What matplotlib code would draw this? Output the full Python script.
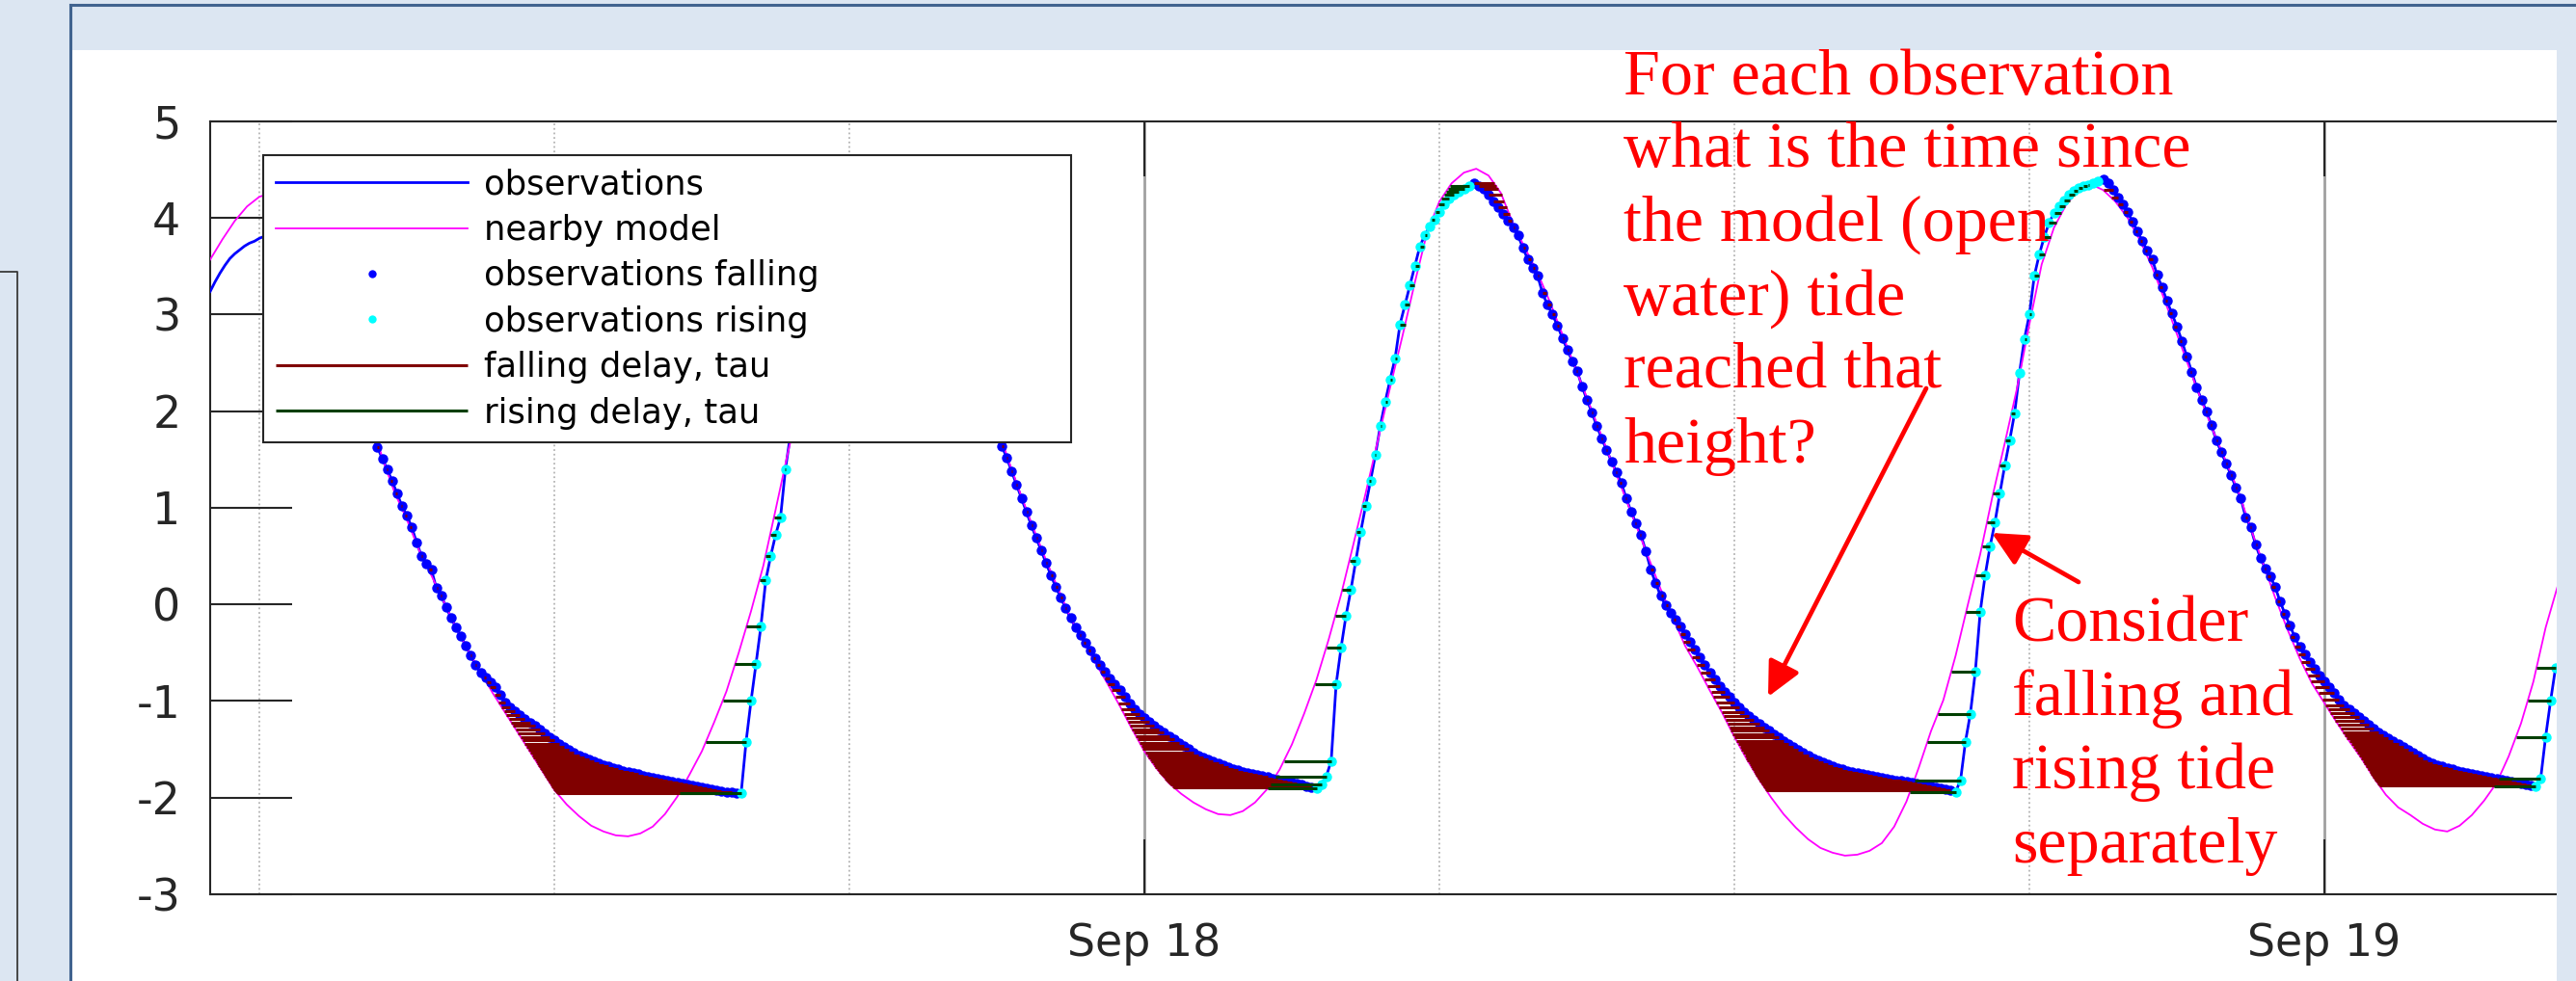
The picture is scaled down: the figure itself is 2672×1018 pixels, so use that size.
import numpy as np
import pandas as pd
import matplotlib
matplotlib.use('Agg')
import matplotlib.pyplot as plt
import matplotlib.dates as mdates
from matplotlib.patches import Rectangle, FancyArrowPatch
from matplotlib.lines import Line2D

# ---------------------------------------------------------------- data
OBS_START = '2015-09-17 05:00'
OBS_STEP = '6min'
obs_height = [
    3.24, 3.34, 3.43, 3.51, 3.58, 3.63, 3.67, 3.71, 3.74, 3.76,   # 05h
    3.79, 3.81, 3.83, 3.84, 3.84, 3.82, 3.78, 3.72, 3.64, 3.54,   # 06h
    3.43, 3.31, 3.18, 3.05, 2.92, 2.79, 2.66, 2.53, 2.40, 2.27,   # 07h
    2.14, 2.01, 1.88, 1.75, 1.63, 1.51, 1.40, 1.28, 1.15, 1.02,   # 08h
    0.92, 0.80, 0.64, 0.50, 0.42, 0.36, 0.17, 0.09, -0.03, -0.14,  # 09h
    -0.24, -0.33, -0.43, -0.53, -0.63, -0.71, -0.76, -0.81, -0.86, -0.94,
    -1.01, -1.06, -1.10, -1.14, -1.18, -1.22, -1.25, -1.29, -1.33, -1.37,
    -1.40, -1.44, -1.47, -1.50, -1.53, -1.56, -1.58, -1.60, -1.62, -1.64,
    -1.66, -1.67, -1.69, -1.70, -1.72, -1.73, -1.74, -1.75, -1.77, -1.78,
    -1.79, -1.80, -1.81, -1.82, -1.83, -1.84, -1.85, -1.86, -1.87, -1.88,
    -1.89, -1.90, -1.91, -1.92, -1.93, -1.94, -1.94, -1.95, -1.95, -1.42,  # 15h
    -1.00, -0.62, -0.23, 0.25, 0.50, 0.72, 0.90, 1.40, 1.75, 2.05,
    2.30, 2.55, 2.85, 3.10, 3.32, 3.52, 3.68, 3.82, 3.93, 4.02,
    4.09, 4.15, 4.20, 4.24, 4.27, 4.29, 4.30, 4.31, 4.27, 4.22,
    4.15, 4.07, 3.98, 3.88, 3.77, 3.65, 3.53, 3.40, 3.27, 3.14,
    3.01, 2.88, 2.75, 2.62, 2.49, 2.36, 2.23, 2.10, 1.97, 1.87,   # 20h
    1.76, 1.64, 1.52, 1.38, 1.24, 1.10, 0.96, 0.82, 0.69, 0.56,
    0.43, 0.30, 0.18, 0.07, -0.04, -0.14, -0.24, -0.32, -0.40, -0.48,
    -0.56, -0.63, -0.70, -0.77, -0.83, -0.89, -0.96, -1.02, -1.08, -1.13,
    -1.17, -1.21, -1.25, -1.29, -1.32, -1.36, -1.39, -1.43, -1.46, -1.49,
    -1.53, -1.56, -1.58, -1.60, -1.62, -1.64, -1.66, -1.68, -1.70, -1.71,  # 25h
    -1.73, -1.74, -1.75, -1.76, -1.77, -1.78, -1.80, -1.81, -1.82, -1.83,
    -1.84, -1.85, -1.86, -1.88, -1.89, -1.90, -1.86, -1.78, -1.62, -0.83,
    -0.45, -0.12, 0.15, 0.45, 0.75, 1.02, 1.28, 1.55, 1.85, 2.10,
    2.33, 2.55, 2.90, 3.10, 3.30, 3.50, 3.70, 3.82, 3.91, 3.98,
    4.06, 4.14, 4.20, 4.24, 4.27, 4.30, 4.33, 4.36, 4.33, 4.30,   # 30h
    4.24, 4.17, 4.11, 4.04, 3.97, 3.90, 3.82, 3.69, 3.57, 3.48,
    3.40, 3.22, 3.10, 3.00, 2.89, 2.76, 2.64, 2.52, 2.42, 2.26,
    2.12, 1.99, 1.85, 1.72, 1.60, 1.48, 1.37, 1.26, 1.10, 0.96,
    0.84, 0.72, 0.55, 0.36, 0.22, 0.09, -0.01, -0.09, -0.16, -0.23,
    -0.31, -0.39, -0.47, -0.55, -0.63, -0.71, -0.78, -0.85, -0.91, -0.96,  # 35h
    -1.01, -1.06, -1.11, -1.15, -1.19, -1.23, -1.27, -1.30, -1.34, -1.37,
    -1.41, -1.44, -1.47, -1.50, -1.53, -1.56, -1.59, -1.61, -1.63, -1.65,
    -1.67, -1.69, -1.70, -1.72, -1.73, -1.74, -1.75, -1.76, -1.77, -1.78,
    -1.79, -1.80, -1.81, -1.82, -1.82, -1.83, -1.84, -1.85, -1.86, -1.87,
    -1.88, -1.89, -1.90, -1.91, -1.92, -1.94, -1.82, -1.42, -1.13, -0.70,  # 40h
    -0.08, 0.30, 0.60, 0.85, 1.15, 1.44, 1.70, 1.98, 2.40, 2.75,
    3.00, 3.40, 3.62, 3.80, 3.95, 4.05, 4.12, 4.18, 4.24, 4.28,
    4.31, 4.33, 4.34, 4.36, 4.38, 4.40, 4.36, 4.29, 4.21, 4.14,
    4.06, 3.96, 3.86, 3.76, 3.66, 3.57, 3.41, 3.28, 3.14, 3.01,
    2.88, 2.73, 2.57, 2.41, 2.25, 2.12, 2.00, 1.86, 1.70, 1.58,   # 45h
    1.46, 1.34, 1.21, 1.10, 0.90, 0.80, 0.62, 0.48, 0.37, 0.29,
    0.18, 0.03, -0.10, -0.22, -0.34, -0.44, -0.52, -0.60, -0.67, -0.74,
    -0.80, -0.86, -0.92, -0.99, -1.04, -1.08, -1.12, -1.16, -1.20, -1.24,
    -1.28, -1.32, -1.35, -1.38, -1.41, -1.44, -1.47, -1.50, -1.53, -1.56,
    -1.59, -1.62, -1.64, -1.66, -1.67, -1.69, -1.70, -1.72, -1.73, -1.74,  # 50h
    -1.75, -1.76, -1.77, -1.78, -1.79, -1.80, -1.81, -1.82, -1.83, -1.84,
    -1.85, -1.86, -1.87, -1.88, -1.80, -1.37, -1.00, -0.66,
]

MODEL_START = '2015-09-17 05:00'
MODEL_STEP = '15min'
model_height = [
    3.57, 3.78, 3.97, 4.12,        # 05h
    4.22, 4.26, 4.22, 4.08,
    3.85, 3.55, 3.20, 2.80,
    2.38, 1.96, 1.52, 1.16,
    0.88, 0.56, 0.30, 0.03,
    -0.24, -0.48, -0.70, -0.92,    # 10h
    -1.12, -1.32, -1.52, -1.72,
    -1.92, -2.07, -2.19, -2.29,
    -2.35, -2.39, -2.40, -2.37,
    -2.30, -2.17, -1.99, -1.76,
    -1.52, -1.22, -0.90, -0.50,    # 15h
    -0.07, 0.40, 0.98, 1.57,
    2.12, 2.65, 3.12, 3.52,
    3.85, 4.10, 4.26, 4.32,
    4.27, 4.13, 3.92, 3.65,
    3.33, 2.98, 2.62, 2.25,        # 20h
    1.86, 1.47, 1.12, 0.78,
    0.46, 0.16, -0.14, -0.38,
    -0.60, -0.82, -1.05, -1.29,
    -1.52, -1.70, -1.85, -1.96,
    -2.05, -2.12, -2.17, -2.18,    # 25h
    -2.14, -2.05, -1.91, -1.71,
    -1.45, -1.13, -0.78, -0.36,
    0.10, 0.62, 1.15, 1.70,
    2.25, 2.78, 3.33, 3.85,
    4.17, 4.36, 4.47, 4.51,        # 30h
    4.44, 4.26, 3.94, 3.68,
    3.43, 3.13, 2.80, 2.47,
    2.14, 1.81, 1.48, 1.15,
    0.82, 0.49, 0.16, -0.14,
    -0.43, -0.65, -0.89, -1.12,    # 35h
    -1.37, -1.60, -1.81, -2.00,
    -2.17, -2.31, -2.43, -2.52,
    -2.57, -2.60, -2.59, -2.55,
    -2.47, -2.30, -2.04, -1.69,
    -1.31, -0.99, -0.53, 0.00,     # 40h
    0.52, 1.12, 1.67, 2.24,
    2.90, 3.52, 3.90, 4.14,
    4.29, 4.35, 4.29, 4.17,
    4.00, 3.77, 3.49, 3.15,
    2.80, 2.45, 2.11, 1.78,        # 45h
    1.48, 1.17, 0.79, 0.43,
    0.07, -0.26, -0.56, -0.82,
    -1.02, -1.22, -1.41, -1.59,
    -1.79, -1.97, -2.10, -2.18,
    -2.27, -2.33, -2.35, -2.29,    # 50h
    -2.18, -2.03, -1.85, -1.57,
    -1.23, -0.80, -0.24, 0.20,
    0.65,
]

ANALYSIS_START = '2015-09-17 06:30'
MAX_DELAY_HOURS = 6
XLIM = ('2015-09-17 05:00', '2015-09-19 05:40')
YLIM = (-3, 5)
YTICKS = [-3, -2, -1, 0, 1, 2, 3, 4, 5]
YTICK_LABELS = ['-3', '-2', '-1', '0', '1', '2', '3', '4', '5']
LEGEND_LABELS = ['observations', 'nearby model', 'observations falling',
                 'observations rising', 'falling delay, tau', 'rising delay, tau']
NOTE_1 = ['For each observation', 'what is the time since', 'the model (open',
          'water) tide', 'reached that', 'height?']
NOTE_2 = ['Consider', 'falling and', 'rising tide', 'separately']

# ---------------------------------------------------------------- derived
t_obs = mdates.date2num(pd.date_range(OBS_START, periods=len(obs_height), freq=OBS_STEP))
t_mod = mdates.date2num(pd.date_range(MODEL_START, periods=len(model_height), freq=MODEL_STEP))
h = np.array(obs_height, dtype=float)
m = np.array(model_height, dtype=float)

d = np.diff(h)
d = np.append(d, d[-1])
rising = d > 0
active = t_obs >= mdates.date2num(pd.Timestamp(ANALYSIS_START))


def crossings(level, direction):
    a = m[:-1] - level
    b = m[1:] - level
    step = m[1:] - m[:-1]
    idx = np.where((a * b <= 0) & (np.sign(step) == direction))[0]
    frac = (level - m[idx]) / step[idx]
    return t_mod[idx] + frac * (t_mod[idx + 1] - t_mod[idx])


fall_seg, rise_seg = [], []
for i in np.where(active)[0]:
    direction = 1 if rising[i] else -1
    tc = crossings(h[i], direction)
    if len(tc) == 0:
        continue
    j = np.argmin(np.abs(tc - t_obs[i]))
    if abs(tc[j] - t_obs[i]) <= MAX_DELAY_HOURS / 24.0:
        (rise_seg if rising[i] else fall_seg).append((h[i], tc[j], t_obs[i]))
fall_seg = np.array(fall_seg)
rise_seg = np.array(rise_seg)

# ---------------------------------------------------------------- figure
W, H = 2672, 1018
SLIDE_BLUE = '#dce6f2'
BORDER_BLUE = '#41638f'
INK = '#262626'

plt.rcParams['font.family'] = ['DejaVu Sans']
fig = plt.figure(figsize=(W / 100, H / 100), dpi=100, facecolor=SLIDE_BLUE)


def fx(x):
    return x / W


def fy(y):
    return 1 - y / H


# white slide area
fig.add_artist(Rectangle((fx(75), 0), fx(2652) - fx(75), fy(52), transform=fig.transFigure,
                         facecolor='white', edgecolor='none', zorder=-2))

ax = fig.add_axes([fx(218), fy(928), (2700 - 218) / W, (928 - 126) / H])
ax.set_facecolor('white')

l_obs, = ax.plot(t_obs, h, color='#0000ff', lw=2.0, zorder=3)
l_mod, = ax.plot(t_mod, m, color='#ff00ff', lw=1.3, zorder=3.5)
l_fall, = ax.plot(t_obs[active & ~rising], h[active & ~rising], ls='none', marker='o',
                  ms=7.5, mew=0, color='#0000ff', zorder=4)
l_rise, = ax.plot(t_obs[active & rising], h[active & rising], ls='none', marker='o',
                  ms=7.5, mew=0, color='#00ffff', zorder=4)
c_fall = ax.hlines(fall_seg[:, 0], fall_seg[:, 1], fall_seg[:, 2], colors='#800000',
                   lw=2.2, zorder=5)
c_rise = ax.hlines(rise_seg[:, 0], rise_seg[:, 1], rise_seg[:, 2], colors='#003f00',
                   lw=2.2, zorder=5)

ax.set_xlim(mdates.date2num(pd.Timestamp(XLIM[0])), mdates.date2num(pd.Timestamp(XLIM[1])))
ax.set_ylim(*YLIM)
ax.set_yticks(YTICKS)
ax.set_yticklabels(YTICK_LABELS)
ax.xaxis.set_major_locator(mdates.DayLocator())
ax.xaxis.set_major_formatter(mdates.DateFormatter('%b %d'))
ax.xaxis.set_minor_locator(mdates.HourLocator(byhour=[6, 12, 18]))

ax.tick_params(axis='x', which='major', direction='in', length=41, width=1.5, top=True,
               colors=INK, labelsize=33, pad=21)
ax.tick_params(axis='x', which='minor', length=0)
ax.tick_params(axis='y', which='major', direction='in', length=61, width=1.5, right=False,
               colors=INK, labelsize=33, pad=22)
ax.set_axisbelow(True)
ax.grid(which='major', axis='x', color='#a0a0a0', lw=2.0, ls='-')
ax.grid(which='minor', axis='x', color='#b4b4b4', lw=1.3, ls=(0, (1, 1.6)))
for sp in ax.spines.values():
    sp.set_color(INK)
    sp.set_linewidth(1.5)

leg = ax.legend([l_obs, l_mod, l_fall, l_rise, c_fall, c_rise], LEGEND_LABELS,
                loc='upper left', bbox_to_anchor=(fx(273), fy(468), fx(1111) - fx(273), fy(161) - fy(468)),
                bbox_transform=fig.transFigure, mode='expand', borderaxespad=0,
                fontsize=25.5, labelspacing=0.38, borderpad=0.38, handlelength=5.6,
                handletextpad=0.5, numpoints=1, markerscale=0.8, fancybox=False, framealpha=1,
                edgecolor=INK, facecolor='white')
leg.get_frame().set_linewidth(1.5)
leg.set_zorder(10)

# slide edges
fig.add_artist(Rectangle((fx(2652), 0), 1 - fx(2652), fy(52), transform=fig.transFigure,
                         facecolor=SLIDE_BLUE, edgecolor='none', zorder=6))
fig.add_artist(Line2D([fx(73), 1], [fy(5), fy(5)], transform=fig.transFigure,
                      color=BORDER_BLUE, lw=2.2, zorder=7))
fig.add_artist(Line2D([fx(73), fx(73)], [fy(5), 0], transform=fig.transFigure,
                      color=BORDER_BLUE, lw=2.2, zorder=7))
fig.add_artist(Line2D([0, fx(18), fx(18)], [fy(282), fy(282), 0], transform=fig.transFigure,
                      color='#3a3a3a', lw=1.3, zorder=7))

# annotations
for s, yb in zip(NOTE_1, [98, 173, 250, 327, 403, 480]):
    fig.text(fx(1684), fy(yb), s, ha='left', va='baseline', color='#ff0000', fontsize=49,
             family='Liberation Serif', zorder=12)
for s, yb in zip(NOTE_2, [665, 742, 818, 895]):
    fig.text(fx(2087), fy(yb), s, ha='left', va='baseline', color='#ff0000', fontsize=49,
             family='Liberation Serif', zorder=12)

for (x0, y0), (x1, y1) in [((1998, 403), (1834, 723)), ((2156, 604), (2066, 553))]:
    fig.add_artist(FancyArrowPatch((fx(x0), fy(y0)), (fx(x1), fy(y1)),
                                   transform=fig.transFigure,
                                   arrowstyle='-|>,head_length=0.45,head_width=0.22',
                                   mutation_scale=48, lw=3.4, color='#ff0000',
                                   shrinkA=0, shrinkB=0, zorder=12))

fig.savefig('out.png', dpi=100, facecolor=SLIDE_BLUE)
